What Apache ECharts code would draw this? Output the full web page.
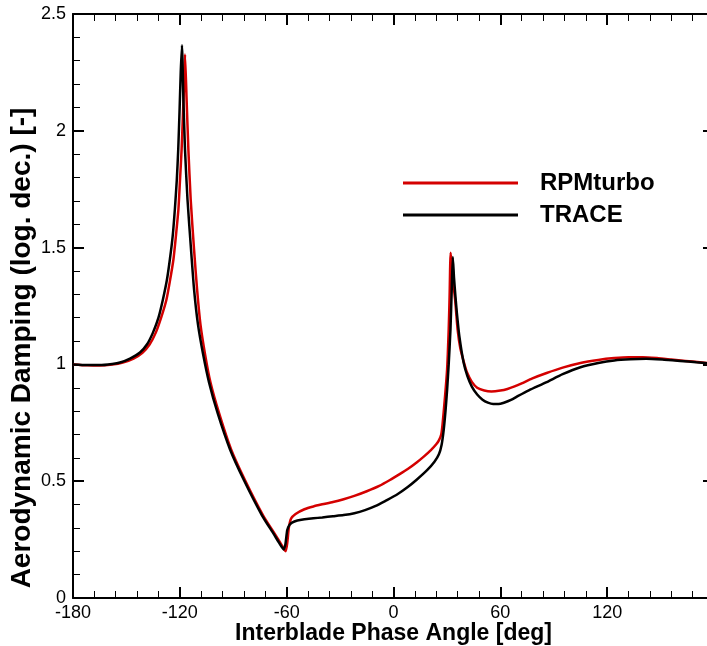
<!DOCTYPE html>
<html>
<head>
<meta charset="utf-8">
<script src="https://cdn.jsdelivr.net/npm/echarts@6/dist/echarts.min.js"></script>
<style>
html,body{margin:0;padding:0;background:#fff;}
#chart{width:707px;height:646px;}
</style>
</head>
<body>
<div id="chart"></div>
<script>
// ---- data ----
const seriesNames = ["RPMturbo", "TRACE"];
const xLabel = "Interblade Phase Angle [deg]";
const yLabel = "Aerodynamic Damping (log. dec.) [-]";

const rpmX = [-180,-172,-165,-158,-152,-146,-141,-137,-133.5,-130.5,-127.5,-125.5,-123.6,-122.2,-120.8,-119.9,-119,-118.2,-117.6,-117.1,
  -116.2,-115.2,-113.9,-112,-110.3,-108.4,-105.8,-102.8,-98,-91.2,-83.3,-73.2,-66.5,-63.7,-60.6,
  -59.6,-58.8,-57.5,-55,-50,-45,-40,-34,-28,-22,-15,-8,-2,3,8,13,17,21,24,25.5,26.8,27.5,28.8,30.1,31,31.5,32.1,
  33,34,34.7,36,37.5,39.5,41.3,44,47,51,55,60,64,68,72,78,86,95,105,115,124,132,140,148,156,164,172,180];
const rpmY = [1.0,0.996,0.995,0.999,1.008,1.025,1.05,1.085,1.136,1.2,1.278,1.36,1.449,1.55,1.663,1.79,1.92,2.08,2.2,2.327,
  2.134,1.92,1.706,1.49,1.32,1.17,1.042,0.923,0.792,0.636,0.503,0.353,0.272,0.238,0.2,
  0.24,0.3,0.34,0.36,0.38,0.392,0.401,0.411,0.423,0.437,0.457,0.48,0.505,0.528,0.552,0.58,0.605,0.633,0.658,0.675,0.7,0.74,0.85,0.978,1.15,1.29,1.478,
  1.40,1.32,1.27,1.15,1.07,1.01,0.965,0.925,0.9,0.888,0.884,0.888,0.895,0.906,0.919,0.94,0.963,0.986,1.006,1.019,1.027,1.031,1.031,1.027,1.021,1.015,1.009,1.003];

const traceX = [-180,-172,-165,-158,-153.6,-148,-142.4,-138.5,-135.1,-132,-129.5,-127.3,-125.6,-124,-122.8,-121.7,-120.9,-120.1,-119.5,-118.8,
  -118,-117.1,-115.7,-113.7,-112,-109.8,-106.9,-103.6,-98.8,-91.8,-83.9,-73.8,-67.1,-64.4,-61.7,
  -60.7,-59.7,-58.5,-57,-54,-50,-45,-40,-34,-28,-22,-16,-10,-4,2,8,13,19,23,25.5,27,28.2,29.2,30.1,31,32,32.7,33.3,
  34,34.8,35.6,37,39.4,41.5,44,47,50,53,56,59,62,66,70,76,86,95,105,115,124,133,142,152,161,170,180];
const traceY = [1.0,0.997,0.997,1.002,1.008,1.025,1.051,1.085,1.136,1.2,1.278,1.36,1.449,1.55,1.663,1.79,1.92,2.1,2.25,2.366,
  2.134,1.92,1.706,1.49,1.32,1.17,1.042,0.923,0.792,0.636,0.503,0.353,0.272,0.238,0.208,
  0.23,0.29,0.312,0.323,0.332,0.337,0.341,0.345,0.35,0.355,0.363,0.376,0.394,0.418,0.443,0.475,0.506,0.548,0.583,0.615,0.655,0.72,0.8,0.89,1.0,1.15,1.32,1.46,
  1.37,1.29,1.22,1.12,1.007,0.95,0.905,0.871,0.849,0.836,0.83,0.83,0.836,0.848,0.865,0.889,0.924,0.958,0.988,1.006,1.017,1.022,1.024,1.02,1.015,1.009,1.003];

const seriesColors = ["#d40000", "#000000"];

// ---- chart ----
const zip = (xs, ys) => xs.map((x, i) => [x, ys[i]]);
const FONT = "'Liberation Sans', Arial, Helvetica, sans-serif";

const axisCommon = {
  axisLine: { show: true, onZero: false, lineStyle: { color: '#000', width: 2 } },
  axisTick: { show: true, inside: true, length: 11, lineStyle: { color: '#000', width: 2 } },
  minorTick: { show: true, splitNumber: 5, length: 7, lineStyle: { color: '#000', width: 1 } },
  splitLine: { show: false },
  minorSplitLine: { show: false }
};

const chart = echarts.init(document.getElementById('chart'), null, { renderer: 'canvas' });
chart.setOption({
  animation: false,
  backgroundColor: '#fff',
  grid: { left: 73, right: -7, top: 14, bottom: 48, containLabel: false, outerBoundsMode: 'none' },
  legend: {
    orient: 'vertical', left: 403, top: 171, padding: 0,
    itemWidth: 115, itemHeight: 3, itemGap: 8, icon: 'rect',
    data: seriesNames,
    textStyle: { fontFamily: FONT, fontSize: 24, fontWeight: 'bold', color: '#000', padding: [0, 0, 0, 17], lineHeight: 22 }
  },
  xAxis: [
    Object.assign({}, axisCommon, {
      type: 'value', min: -180, max: 180, interval: 60, position: 'bottom',
      name: xLabel, nameLocation: 'middle', nameGap: 24, nameMoveOverlap: false,
      nameTextStyle: { fontFamily: FONT, fontSize: 23, fontWeight: 'bold', color: '#000' },
      axisLabel: { show: true, margin: 6, showMaxLabel: false, fontFamily: FONT, fontSize: 18, color: '#000' }
    }),
    Object.assign({}, axisCommon, {
      type: 'value', min: -180, max: 180, interval: 60, position: 'top',
      axisLabel: { show: false }
    })
  ],
  yAxis: [
    Object.assign({}, axisCommon, {
      type: 'value', min: 0, max: 2.5, interval: 0.5, position: 'left',
      name: yLabel, nameLocation: 'middle', nameGap: 37, nameRotate: 90, nameMoveOverlap: false,
      nameTextStyle: { fontFamily: FONT, fontSize: 28, fontWeight: 'bold', color: '#000', padding: [0, 84, 0, 0] },
      axisLabel: { show: true, margin: 7, fontFamily: FONT, fontSize: 18, color: '#000' }
    }),
    Object.assign({}, axisCommon, {
      type: 'value', min: 0, max: 2.5, interval: 0.5, position: 'right',
      axisLabel: { show: false }
    })
  ],
  series: [
    { name: seriesNames[0], type: 'line', data: zip(rpmX, rpmY), showSymbol: false, symbol: 'none',
      smooth: 0.2, color: seriesColors[0], lineStyle: { width: 2.5, color: seriesColors[0] } },
    { name: seriesNames[1], type: 'line', data: zip(traceX, traceY), showSymbol: false, symbol: 'none',
      smooth: 0.2, color: seriesColors[1], lineStyle: { width: 2.5, color: seriesColors[1] } }
  ]
});
</script>
</body>
</html>
